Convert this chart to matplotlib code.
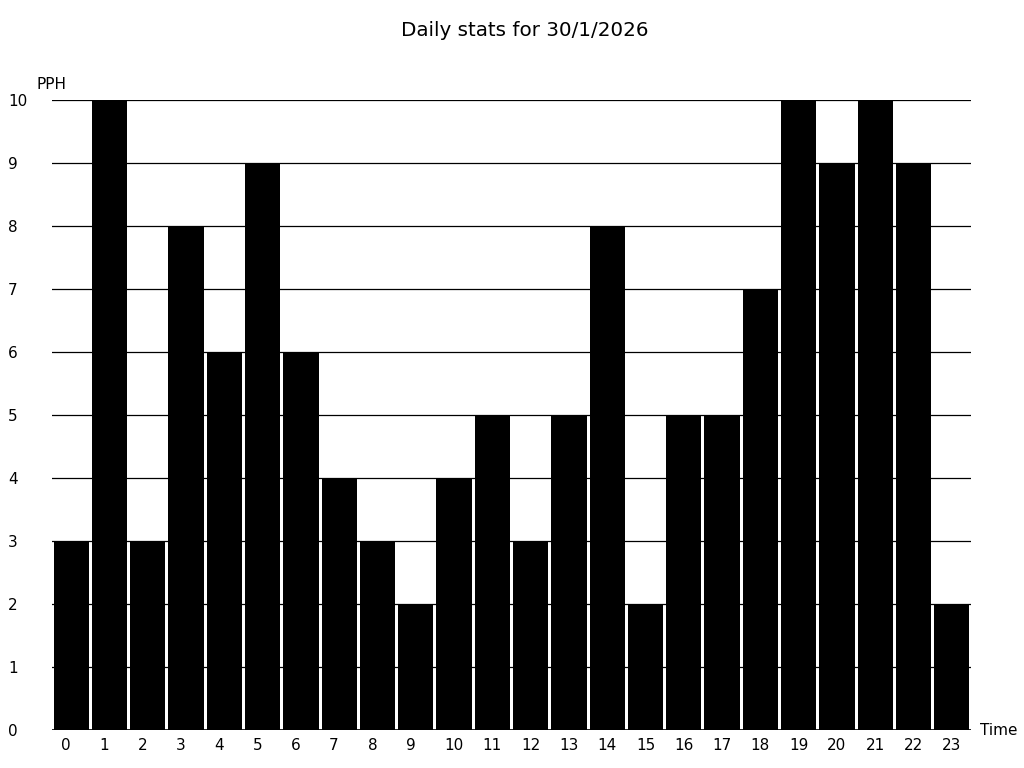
import matplotlib
matplotlib.use("Agg")
import matplotlib.pyplot as plt

hours = list(range(24))
pph = [3, 10, 3, 8, 6, 9, 6, 4, 3, 2, 4, 5, 3, 5, 8, 2, 5, 5, 7, 10, 9, 10, 9, 2]
y_ticks = list(range(11))
title = "Daily stats for 30/1/2026"

fig = plt.figure(figsize=(10.24, 7.68), dpi=100)
ax = fig.add_axes([0.0508, 0.0495, 0.8974, 0.8203])

ax.bar(hours, pph, width=0.92, color="black", zorder=2)
ax.set_xlim(-0.5, 23.5)
ax.set_ylim(0, 10)
ax.set_xticks(hours)
# single digit labels sit left in a two-digit slot, as in the original
ax.set_xticklabels([f"{h}\u2007" if h < 10 else str(h) for h in hours])
ax.set_yticks(y_ticks)
for lbl in ax.get_yticklabels():
    lbl.set_horizontalalignment("left")
ax.grid(axis="y", color="black", linewidth=0.9, zorder=1)
ax.set_axisbelow(True)
for s in ax.spines.values():
    s.set_visible(False)
ax.axhline(0, color="black", linewidth=1.2, zorder=3)
ax.tick_params(axis="both", length=0, labelsize=11)
ax.tick_params(axis="y", pad=31.7)
ax.tick_params(axis="x", pad=5.5)

fig.text(0.512, 0.96, title, ha="center", va="center", fontsize=14.35)
fig.text(0.036, 0.89, "PPH", ha="left", va="center", fontsize=11)
fig.text(0.957, 0.049, "Time", ha="left", va="center", fontsize=11)

fig.savefig("out.png", dpi=100)
